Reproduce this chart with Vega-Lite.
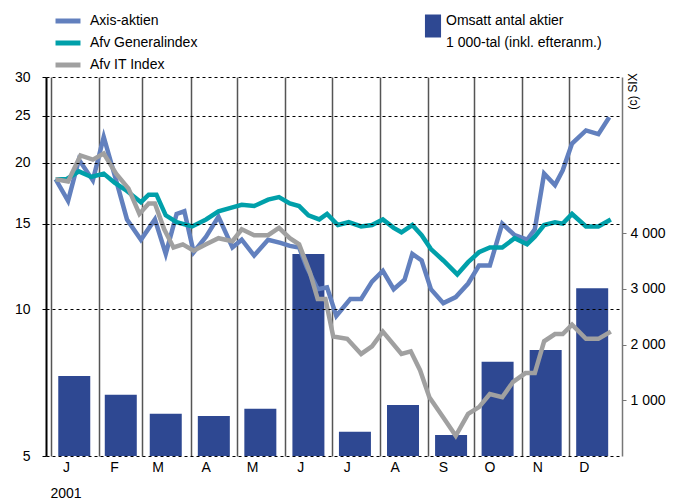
{
  "$schema": "https://vega.github.io/schema/vega-lite/v6.json",
  "width": 576,
  "height": 379,
  "autosize": {"type": "none"},
  "padding": {"left": 46, "top": 77, "right": 51, "bottom": 46},
  "background": "white",
  "config": {"font": "Liberation Sans", "view": {"stroke": null}},
  "datasets": {
    "bars": [
      {"date": "2001-01-16", "series": "Omsatt antal aktier", "volume": 1435},
      {"date": "2001-02-15", "series": "Omsatt antal aktier", "volume": 1100},
      {"date": "2001-03-16", "series": "Omsatt antal aktier", "volume": 759},
      {"date": "2001-04-16", "series": "Omsatt antal aktier", "volume": 717},
      {"date": "2001-05-16", "series": "Omsatt antal aktier", "volume": 849},
      {"date": "2001-06-16", "series": "Omsatt antal aktier", "volume": 3623},
      {"date": "2001-07-16", "series": "Omsatt antal aktier", "volume": 436},
      {"date": "2001-08-16", "series": "Omsatt antal aktier", "volume": 915},
      {"date": "2001-09-16", "series": "Omsatt antal aktier", "volume": 377},
      {"date": "2001-10-16", "series": "Omsatt antal aktier", "volume": 1692},
      {"date": "2001-11-16", "series": "Omsatt antal aktier", "volume": 1901},
      {"date": "2001-12-16", "series": "Omsatt antal aktier", "volume": 3008}
    ],
    "lines": [
      {"date": "2001-01-04", "series": "Axis-aktien", "value": 18.5},
      {"date": "2001-01-12", "series": "Axis-aktien", "value": 16.7},
      {"date": "2001-01-19", "series": "Axis-aktien", "value": 20.3},
      {"date": "2001-01-28", "series": "Axis-aktien", "value": 18.4},
      {"date": "2001-02-04", "series": "Axis-aktien", "value": 22.6},
      {"date": "2001-02-12", "series": "Axis-aktien", "value": 18.4},
      {"date": "2001-02-19", "series": "Axis-aktien", "value": 15.3},
      {"date": "2001-02-28", "series": "Axis-aktien", "value": 13.9},
      {"date": "2001-03-09", "series": "Axis-aktien", "value": 15.3},
      {"date": "2001-03-16", "series": "Axis-aktien", "value": 13.0},
      {"date": "2001-03-23", "series": "Axis-aktien", "value": 15.7},
      {"date": "2001-03-28", "series": "Axis-aktien", "value": 15.9},
      {"date": "2001-04-03", "series": "Axis-aktien", "value": 13.1},
      {"date": "2001-04-11", "series": "Axis-aktien", "value": 14.1},
      {"date": "2001-04-19", "series": "Axis-aktien", "value": 15.5},
      {"date": "2001-04-28", "series": "Axis-aktien", "value": 13.4},
      {"date": "2001-05-04", "series": "Axis-aktien", "value": 13.9},
      {"date": "2001-05-12", "series": "Axis-aktien", "value": 12.9},
      {"date": "2001-05-21", "series": "Axis-aktien", "value": 13.9},
      {"date": "2001-05-29", "series": "Axis-aktien", "value": 13.7},
      {"date": "2001-06-04", "series": "Axis-aktien", "value": 13.5},
      {"date": "2001-06-10", "series": "Axis-aktien", "value": 13.4},
      {"date": "2001-06-15", "series": "Axis-aktien", "value": 12.2},
      {"date": "2001-06-22", "series": "Axis-aktien", "value": 11.0},
      {"date": "2001-06-28", "series": "Axis-aktien", "value": 11.1},
      {"date": "2001-07-04", "series": "Axis-aktien", "value": 9.7},
      {"date": "2001-07-13", "series": "Axis-aktien", "value": 10.5},
      {"date": "2001-07-20", "series": "Axis-aktien", "value": 10.5},
      {"date": "2001-07-27", "series": "Axis-aktien", "value": 11.4},
      {"date": "2001-08-03", "series": "Axis-aktien", "value": 12.0},
      {"date": "2001-08-10", "series": "Axis-aktien", "value": 11.0},
      {"date": "2001-08-17", "series": "Axis-aktien", "value": 11.5},
      {"date": "2001-08-22", "series": "Axis-aktien", "value": 13.0},
      {"date": "2001-08-28", "series": "Axis-aktien", "value": 12.6},
      {"date": "2001-09-03", "series": "Axis-aktien", "value": 11.0},
      {"date": "2001-09-11", "series": "Axis-aktien", "value": 10.3},
      {"date": "2001-09-19", "series": "Axis-aktien", "value": 10.6},
      {"date": "2001-09-27", "series": "Axis-aktien", "value": 11.3},
      {"date": "2001-10-04", "series": "Axis-aktien", "value": 12.3},
      {"date": "2001-10-11", "series": "Axis-aktien", "value": 12.3},
      {"date": "2001-10-19", "series": "Axis-aktien", "value": 15.0},
      {"date": "2001-10-27", "series": "Axis-aktien", "value": 14.2},
      {"date": "2001-11-04", "series": "Axis-aktien", "value": 13.9},
      {"date": "2001-11-09", "series": "Axis-aktien", "value": 14.6},
      {"date": "2001-11-15", "series": "Axis-aktien", "value": 19.0},
      {"date": "2001-11-22", "series": "Axis-aktien", "value": 18.0},
      {"date": "2001-11-27", "series": "Axis-aktien", "value": 19.3},
      {"date": "2001-12-03", "series": "Axis-aktien", "value": 21.9},
      {"date": "2001-12-12", "series": "Axis-aktien", "value": 23.3},
      {"date": "2001-12-20", "series": "Axis-aktien", "value": 22.9},
      {"date": "2001-12-27", "series": "Axis-aktien", "value": 24.8},
      {"date": "2001-01-04", "series": "Afv Generalindex", "value": 18.5},
      {"date": "2001-01-11", "series": "Afv Generalindex", "value": 18.5},
      {"date": "2001-01-19", "series": "Afv Generalindex", "value": 19.2},
      {"date": "2001-01-27", "series": "Afv Generalindex", "value": 18.7},
      {"date": "2001-02-04", "series": "Afv Generalindex", "value": 19.0},
      {"date": "2001-02-11", "series": "Afv Generalindex", "value": 18.2},
      {"date": "2001-02-18", "series": "Afv Generalindex", "value": 17.6},
      {"date": "2001-02-24", "series": "Afv Generalindex", "value": 17.0},
      {"date": "2001-02-28", "series": "Afv Generalindex", "value": 16.6},
      {"date": "2001-03-05", "series": "Afv Generalindex", "value": 17.2},
      {"date": "2001-03-10", "series": "Afv Generalindex", "value": 17.2},
      {"date": "2001-03-16", "series": "Afv Generalindex", "value": 15.6},
      {"date": "2001-03-23", "series": "Afv Generalindex", "value": 15.1},
      {"date": "2001-04-02", "series": "Afv Generalindex", "value": 14.8},
      {"date": "2001-04-11", "series": "Afv Generalindex", "value": 15.3},
      {"date": "2001-04-19", "series": "Afv Generalindex", "value": 15.9},
      {"date": "2001-04-28", "series": "Afv Generalindex", "value": 16.2},
      {"date": "2001-05-04", "series": "Afv Generalindex", "value": 16.4},
      {"date": "2001-05-12", "series": "Afv Generalindex", "value": 16.3},
      {"date": "2001-05-21", "series": "Afv Generalindex", "value": 16.8},
      {"date": "2001-05-28", "series": "Afv Generalindex", "value": 17.0},
      {"date": "2001-06-04", "series": "Afv Generalindex", "value": 16.5},
      {"date": "2001-06-10", "series": "Afv Generalindex", "value": 16.3},
      {"date": "2001-06-16", "series": "Afv Generalindex", "value": 15.6},
      {"date": "2001-06-23", "series": "Afv Generalindex", "value": 15.3},
      {"date": "2001-06-28", "series": "Afv Generalindex", "value": 15.7},
      {"date": "2001-07-05", "series": "Afv Generalindex", "value": 14.9},
      {"date": "2001-07-12", "series": "Afv Generalindex", "value": 15.1},
      {"date": "2001-07-20", "series": "Afv Generalindex", "value": 14.8},
      {"date": "2001-07-27", "series": "Afv Generalindex", "value": 14.9},
      {"date": "2001-08-03", "series": "Afv Generalindex", "value": 15.3},
      {"date": "2001-08-10", "series": "Afv Generalindex", "value": 14.7},
      {"date": "2001-08-15", "series": "Afv Generalindex", "value": 14.4},
      {"date": "2001-08-22", "series": "Afv Generalindex", "value": 14.9},
      {"date": "2001-08-28", "series": "Afv Generalindex", "value": 14.2},
      {"date": "2001-09-03", "series": "Afv Generalindex", "value": 13.3},
      {"date": "2001-09-11", "series": "Afv Generalindex", "value": 12.6},
      {"date": "2001-09-20", "series": "Afv Generalindex", "value": 11.8},
      {"date": "2001-09-27", "series": "Afv Generalindex", "value": 12.5},
      {"date": "2001-10-04", "series": "Afv Generalindex", "value": 13.1},
      {"date": "2001-10-11", "series": "Afv Generalindex", "value": 13.4},
      {"date": "2001-10-19", "series": "Afv Generalindex", "value": 13.4},
      {"date": "2001-10-27", "series": "Afv Generalindex", "value": 14.0},
      {"date": "2001-11-04", "series": "Afv Generalindex", "value": 13.6},
      {"date": "2001-11-09", "series": "Afv Generalindex", "value": 14.1},
      {"date": "2001-11-15", "series": "Afv Generalindex", "value": 14.9},
      {"date": "2001-11-22", "series": "Afv Generalindex", "value": 15.1},
      {"date": "2001-11-27", "series": "Afv Generalindex", "value": 15.0},
      {"date": "2001-12-03", "series": "Afv Generalindex", "value": 15.7},
      {"date": "2001-12-12", "series": "Afv Generalindex", "value": 14.8},
      {"date": "2001-12-20", "series": "Afv Generalindex", "value": 14.8},
      {"date": "2001-12-28", "series": "Afv Generalindex", "value": 15.3},
      {"date": "2001-01-04", "series": "Afv IT Index", "value": 18.5},
      {"date": "2001-01-12", "series": "Afv IT Index", "value": 18.3},
      {"date": "2001-01-20", "series": "Afv IT Index", "value": 20.7},
      {"date": "2001-01-28", "series": "Afv IT Index", "value": 20.3},
      {"date": "2001-02-04", "series": "Afv IT Index", "value": 20.9},
      {"date": "2001-02-12", "series": "Afv IT Index", "value": 19.0},
      {"date": "2001-02-20", "series": "Afv IT Index", "value": 17.7},
      {"date": "2001-02-27", "series": "Afv IT Index", "value": 15.7},
      {"date": "2001-03-05", "series": "Afv IT Index", "value": 16.5},
      {"date": "2001-03-09", "series": "Afv IT Index", "value": 16.5},
      {"date": "2001-03-15", "series": "Afv IT Index", "value": 14.6},
      {"date": "2001-03-21", "series": "Afv IT Index", "value": 13.4},
      {"date": "2001-03-27", "series": "Afv IT Index", "value": 13.6},
      {"date": "2001-04-03", "series": "Afv IT Index", "value": 13.2},
      {"date": "2001-04-11", "series": "Afv IT Index", "value": 13.6},
      {"date": "2001-04-19", "series": "Afv IT Index", "value": 14.0},
      {"date": "2001-04-28", "series": "Afv IT Index", "value": 13.8},
      {"date": "2001-05-04", "series": "Afv IT Index", "value": 14.6},
      {"date": "2001-05-12", "series": "Afv IT Index", "value": 14.2},
      {"date": "2001-05-21", "series": "Afv IT Index", "value": 14.2},
      {"date": "2001-05-28", "series": "Afv IT Index", "value": 14.7},
      {"date": "2001-06-04", "series": "Afv IT Index", "value": 14.0},
      {"date": "2001-06-10", "series": "Afv IT Index", "value": 13.6},
      {"date": "2001-06-17", "series": "Afv IT Index", "value": 11.9},
      {"date": "2001-06-22", "series": "Afv IT Index", "value": 10.5},
      {"date": "2001-06-27", "series": "Afv IT Index", "value": 10.5},
      {"date": "2001-07-02", "series": "Afv IT Index", "value": 8.8},
      {"date": "2001-07-11", "series": "Afv IT Index", "value": 8.7},
      {"date": "2001-07-20", "series": "Afv IT Index", "value": 8.1},
      {"date": "2001-07-27", "series": "Afv IT Index", "value": 8.4},
      {"date": "2001-08-03", "series": "Afv IT Index", "value": 9.0},
      {"date": "2001-08-15", "series": "Afv IT Index", "value": 8.1},
      {"date": "2001-08-21", "series": "Afv IT Index", "value": 8.2},
      {"date": "2001-08-27", "series": "Afv IT Index", "value": 7.5},
      {"date": "2001-09-02", "series": "Afv IT Index", "value": 6.6},
      {"date": "2001-09-11", "series": "Afv IT Index", "value": 6.0},
      {"date": "2001-09-19", "series": "Afv IT Index", "value": 5.5},
      {"date": "2001-09-27", "series": "Afv IT Index", "value": 6.1},
      {"date": "2001-10-04", "series": "Afv IT Index", "value": 6.3},
      {"date": "2001-10-11", "series": "Afv IT Index", "value": 6.7},
      {"date": "2001-10-19", "series": "Afv IT Index", "value": 6.6},
      {"date": "2001-10-26", "series": "Afv IT Index", "value": 7.1},
      {"date": "2001-11-03", "series": "Afv IT Index", "value": 7.4},
      {"date": "2001-11-09", "series": "Afv IT Index", "value": 7.4},
      {"date": "2001-11-15", "series": "Afv IT Index", "value": 8.6},
      {"date": "2001-11-22", "series": "Afv IT Index", "value": 8.9},
      {"date": "2001-11-27", "series": "Afv IT Index", "value": 8.9},
      {"date": "2001-12-03", "series": "Afv IT Index", "value": 9.3},
      {"date": "2001-12-12", "series": "Afv IT Index", "value": 8.7},
      {"date": "2001-12-20", "series": "Afv IT Index", "value": 8.7},
      {"date": "2001-12-28", "series": "Afv IT Index", "value": 9.0}
    ]
  },
  "layer": [
    {
      "data": {"name": "bars"},
      "mark": {"type": "bar", "width": 32},
      "encoding": {
        "x": {
          "field": "date",
          "type": "temporal",
          "scale": {"type": "utc", "domain": [{"year": 2001, "month": 1, "date": 1, "utc": true}, {"year": 2002, "month": 1, "date": 1, "utc": true}]},
          "axis": {
            "values": [
              {"year": 2001, "month": 1, "date": 1, "utc": true},
              {"year": 2001, "month": 2, "date": 1, "utc": true},
              {"year": 2001, "month": 3, "date": 1, "utc": true},
              {"year": 2001, "month": 4, "date": 1, "utc": true},
              {"year": 2001, "month": 5, "date": 1, "utc": true},
              {"year": 2001, "month": 6, "date": 1, "utc": true},
              {"year": 2001, "month": 7, "date": 1, "utc": true},
              {"year": 2001, "month": 8, "date": 1, "utc": true},
              {"year": 2001, "month": 9, "date": 1, "utc": true},
              {"year": 2001, "month": 10, "date": 1, "utc": true},
              {"year": 2001, "month": 11, "date": 1, "utc": true},
              {"year": 2001, "month": 12, "date": 1, "utc": true}
            ],
            "labelExpr": "substring(utcFormat(datum.value, '%b'), 0, 1)",
            "labelOffset": 15,
            "labelAlign": "center",
            "labelFlush": false,
            "labelOverlap": false,
            "labelFontSize": 14,
            "labelColor": "#000",
            "labelPadding": 4,
            "ticks": false,
            "domain": false,
            "grid": true,
            "gridColor": "#555",
            "gridWidth": 1.5,
            "gridOpacity": 1,
            "title": "2001",
            "titleFontSize": 14,
            "titleFontWeight": "normal",
            "titleColor": "#000",
            "titleAnchor": "start",
            "titleAlign": "left",
            "titleX": 4,
            "titleY": 37,
            "titleBaseline": "middle"
          }
        },
        "y": {
          "field": "volume",
          "type": "quantitative",
          "scale": {"domain": [0, 6800], "nice": false},
          "axis": {
            "orient": "right",
            "values": [1000, 2000, 3000, 4000],
            "labelExpr": "replace(format(datum.value, ','), ',', ' ')",
            "grid": false,
            "domainColor": "#777",
            "domainWidth": 1.5,
            "tickColor": "#777",
            "tickSize": 4,
            "labelFontSize": 14,
            "labelColor": "#000",
            "labelPadding": 4,
            "title": "(c) SIX",
            "titleFontSize": 12,
            "titleFontWeight": "normal",
            "titleColor": "#000",
            "titleAngle": 270,
            "titleX": 10,
            "titleY": 14,
            "titleAlign": "center",
            "titleBaseline": "middle"
          }
        },
        "fill": {
          "field": "series",
          "type": "nominal",
          "scale": {"range": ["#2E4892"]},
          "legend": {
            "orient": "none",
            "legendX": 364,
            "legendY": -74,
            "title": null,
            "padding": 0,
            "symbolType": "M-0.35,-0.5H0.35V0.5H-0.35Z",
            "symbolSize": 2116,
            "symbolStrokeWidth": 0,
            "symbolOpacity": 1,
            "labelFontSize": 14,
            "labelColor": "#000",
            "labelLimit": 400,
            "labelOffset": -10,
            "labelExpr": "['Omsatt antal aktier', '1 000-tal (inkl. efteranm.)']",
            "encode": {"labels": {"update": {"lineHeight": {"value": 22}, "dy": {"value": -5}}}}
          }
        }
      }
    },
    {
      "data": {"name": "lines"},
      "mark": {"type": "line", "strokeWidth": 4.5},
      "encoding": {
        "x": {"field": "date", "type": "temporal"},
        "y": {
          "field": "value",
          "type": "quantitative",
          "scale": {"type": "log", "domain": [5, 30], "nice": false},
          "axis": {
            "orient": "left",
            "values": [5, 10, 15, 20, 25, 30],
            "grid": true,
            "gridColor": "#000",
            "gridDash": [3, 3],
            "gridWidth": 1,
            "gridOpacity": 1,
            "domainColor": "#000",
            "domainWidth": 2,
            "tickColor": "#000",
            "tickSize": 4,
            "tickWidth": 1,
            "labelFontSize": 14,
            "labelColor": "#000",
            "labelPadding": 12,
            "title": null,
            "zindex": 1
          }
        },
        "color": {
          "field": "series",
          "type": "nominal",
          "sort": null,
          "scale": {"domain": ["Axis-aktien", "Afv Generalindex", "Afv IT Index"], "range": ["#6280BE", "#00A0AA", "#A0A0A0"]},
          "legend": {
            "orient": "none",
            "legendX": 13,
            "legendY": -65,
            "title": null,
            "padding": 0,
            "symbolType": "M-2,0H2",
            "symbolStrokeWidth": 5,
            "symbolSize": 156,
            "labelFontSize": 14,
            "labelColor": "#000",
            "labelOffset": 13,
            "labelLimit": 300,
            "rowPadding": 2
          }
        }
      }
    }
  ],
  "resolve": {"scale": {"y": "independent"}, "axis": {"y": "independent"}}
}
